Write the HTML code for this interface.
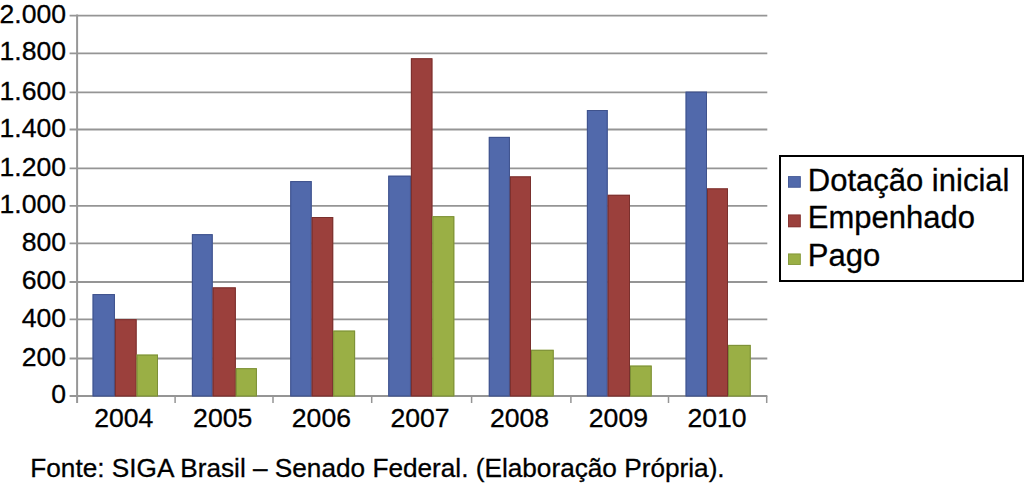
<!DOCTYPE html><html><head><meta charset="utf-8"><style>html,body{margin:0;padding:0;background:#fff}body{width:1024px;height:483px;overflow:hidden}svg{display:block}text{font-family:"Liberation Sans",Arial,sans-serif;fill:#000;stroke:#000;stroke-width:0.3px}</style></head><body>
<svg width="1024" height="483" viewBox="0 0 1024 483">
<rect width="1024" height="483" fill="#fff"/>
<line x1="69.6" y1="358.52" x2="767.3" y2="358.52" stroke="#959595" stroke-width="1.8"/>
<line x1="69.6" y1="319.42" x2="767.3" y2="319.42" stroke="#959595" stroke-width="1.8"/>
<line x1="69.6" y1="282.00" x2="767.3" y2="282.00" stroke="#959595" stroke-width="1.8"/>
<line x1="69.6" y1="243.42" x2="767.3" y2="243.42" stroke="#959595" stroke-width="1.8"/>
<line x1="69.6" y1="205.96" x2="767.3" y2="205.96" stroke="#959595" stroke-width="1.8"/>
<line x1="69.6" y1="168.42" x2="767.3" y2="168.42" stroke="#959595" stroke-width="1.8"/>
<line x1="69.6" y1="129.49" x2="767.3" y2="129.49" stroke="#959595" stroke-width="1.8"/>
<line x1="69.6" y1="92.42" x2="767.3" y2="92.42" stroke="#959595" stroke-width="1.8"/>
<line x1="69.6" y1="53.28" x2="767.3" y2="53.28" stroke="#959595" stroke-width="1.8"/>
<line x1="69.6" y1="15.59" x2="767.3" y2="15.59" stroke="#959595" stroke-width="1.8"/>
<line x1="69.6" y1="395.90" x2="767.3" y2="395.90" stroke="#959595" stroke-width="2"/>
<rect x="92.60" y="294.10" width="22.30" height="102.30" fill="#5169ab"/>
<rect x="93.10" y="294.60" width="21.30" height="101.30" fill="none" stroke="#3f528c" stroke-width="1"/>
<rect x="114.90" y="319.20" width="21.70" height="77.20" fill="#9b403c"/>
<rect x="115.40" y="319.70" width="20.70" height="76.20" fill="none" stroke="#7a302d" stroke-width="1"/>
<rect x="136.60" y="354.60" width="21.40" height="41.80" fill="#9aaf45"/>
<rect x="137.10" y="355.10" width="20.40" height="40.80" fill="none" stroke="#7c8f37" stroke-width="1"/>
<rect x="191.90" y="234.20" width="20.80" height="162.20" fill="#5169ab"/>
<rect x="192.40" y="234.70" width="19.80" height="161.20" fill="none" stroke="#3f528c" stroke-width="1"/>
<rect x="212.70" y="287.40" width="23.10" height="109.00" fill="#9b403c"/>
<rect x="213.20" y="287.90" width="22.10" height="108.00" fill="none" stroke="#7a302d" stroke-width="1"/>
<rect x="235.80" y="368.20" width="21.10" height="28.20" fill="#9aaf45"/>
<rect x="236.30" y="368.70" width="20.10" height="27.20" fill="none" stroke="#7c8f37" stroke-width="1"/>
<rect x="290.25" y="181.10" width="21.45" height="215.30" fill="#5169ab"/>
<rect x="290.75" y="181.60" width="20.45" height="214.30" fill="none" stroke="#3f528c" stroke-width="1"/>
<rect x="311.70" y="217.00" width="21.50" height="179.40" fill="#9b403c"/>
<rect x="312.20" y="217.50" width="20.50" height="178.40" fill="none" stroke="#7a302d" stroke-width="1"/>
<rect x="333.20" y="330.60" width="21.90" height="65.80" fill="#9aaf45"/>
<rect x="333.70" y="331.10" width="20.90" height="64.80" fill="none" stroke="#7c8f37" stroke-width="1"/>
<rect x="388.25" y="175.70" width="22.65" height="220.70" fill="#5169ab"/>
<rect x="388.75" y="176.20" width="21.65" height="219.70" fill="none" stroke="#3f528c" stroke-width="1"/>
<rect x="410.90" y="58.30" width="21.50" height="338.10" fill="#9b403c"/>
<rect x="411.40" y="58.80" width="20.50" height="337.10" fill="none" stroke="#7a302d" stroke-width="1"/>
<rect x="432.40" y="216.20" width="21.90" height="180.20" fill="#9aaf45"/>
<rect x="432.90" y="216.70" width="20.90" height="179.20" fill="none" stroke="#7c8f37" stroke-width="1"/>
<rect x="488.80" y="136.90" width="21.10" height="259.50" fill="#5169ab"/>
<rect x="489.30" y="137.40" width="20.10" height="258.50" fill="none" stroke="#3f528c" stroke-width="1"/>
<rect x="509.90" y="176.40" width="21.10" height="220.00" fill="#9b403c"/>
<rect x="510.40" y="176.90" width="20.10" height="219.00" fill="none" stroke="#7a302d" stroke-width="1"/>
<rect x="531.00" y="349.80" width="22.70" height="46.60" fill="#9aaf45"/>
<rect x="531.50" y="350.30" width="21.70" height="45.60" fill="none" stroke="#7c8f37" stroke-width="1"/>
<rect x="586.90" y="110.00" width="20.80" height="286.40" fill="#5169ab"/>
<rect x="587.40" y="110.50" width="19.80" height="285.40" fill="none" stroke="#3f528c" stroke-width="1"/>
<rect x="607.70" y="194.80" width="22.30" height="201.60" fill="#9b403c"/>
<rect x="608.20" y="195.30" width="21.30" height="200.60" fill="none" stroke="#7a302d" stroke-width="1"/>
<rect x="630.00" y="365.60" width="21.70" height="30.80" fill="#9aaf45"/>
<rect x="630.50" y="366.10" width="20.70" height="29.80" fill="none" stroke="#7c8f37" stroke-width="1"/>
<rect x="685.60" y="91.70" width="21.40" height="304.70" fill="#5169ab"/>
<rect x="686.10" y="92.20" width="20.40" height="303.70" fill="none" stroke="#3f528c" stroke-width="1"/>
<rect x="707.00" y="188.40" width="21.00" height="208.00" fill="#9b403c"/>
<rect x="707.50" y="188.90" width="20.00" height="207.00" fill="none" stroke="#7a302d" stroke-width="1"/>
<rect x="728.00" y="344.90" width="22.70" height="51.50" fill="#9aaf45"/>
<rect x="728.50" y="345.40" width="21.70" height="50.50" fill="none" stroke="#7c8f37" stroke-width="1"/>
<line x1="77.1" y1="14.6" x2="77.1" y2="403" stroke="#979797" stroke-width="2"/>
<line x1="175.10" y1="395.90" x2="175.10" y2="403" stroke="#959595" stroke-width="1.5"/>
<line x1="273.00" y1="395.90" x2="273.00" y2="403" stroke="#959595" stroke-width="1.5"/>
<line x1="371.70" y1="395.90" x2="371.70" y2="403" stroke="#959595" stroke-width="1.5"/>
<line x1="471.60" y1="395.90" x2="471.60" y2="403" stroke="#959595" stroke-width="1.5"/>
<line x1="570.90" y1="395.90" x2="570.90" y2="403" stroke="#959595" stroke-width="1.5"/>
<line x1="668.50" y1="395.90" x2="668.50" y2="403" stroke="#959595" stroke-width="1.5"/>
<line x1="766.70" y1="395.90" x2="766.70" y2="403" stroke="#959595" stroke-width="1.5"/>
<text x="66.1" y="403.10" font-size="26.6" text-anchor="end">0</text>
<text x="66.1" y="365.72" font-size="26.6" text-anchor="end">200</text>
<text x="66.1" y="326.62" font-size="26.6" text-anchor="end">400</text>
<text x="66.1" y="289.20" font-size="26.6" text-anchor="end">600</text>
<text x="66.1" y="250.62" font-size="26.6" text-anchor="end">800</text>
<text x="66.1" y="213.16" font-size="26.6" text-anchor="end">1.000</text>
<text x="66.1" y="175.62" font-size="26.6" text-anchor="end">1.200</text>
<text x="66.1" y="136.69" font-size="26.6" text-anchor="end">1.400</text>
<text x="66.1" y="99.62" font-size="26.6" text-anchor="end">1.600</text>
<text x="66.1" y="60.48" font-size="26.6" text-anchor="end">1.800</text>
<text x="66.1" y="22.79" font-size="26.6" text-anchor="end">2.000</text>
<text x="123.80" y="427" font-size="26.6" text-anchor="middle">2004</text>
<text x="222.70" y="427" font-size="26.6" text-anchor="middle">2005</text>
<text x="321.40" y="427" font-size="26.6" text-anchor="middle">2006</text>
<text x="420.10" y="427" font-size="26.6" text-anchor="middle">2007</text>
<text x="519.50" y="427" font-size="26.6" text-anchor="middle">2008</text>
<text x="618.40" y="427" font-size="26.6" text-anchor="middle">2009</text>
<text x="717.10" y="427" font-size="26.6" text-anchor="middle">2010</text>
<rect x="780" y="156" width="243" height="125" fill="#fff" stroke="#000" stroke-width="2"/>
<rect x="788" y="176.2" width="12.7" height="11.4" fill="#5169ab"/>
<rect x="788.4" y="176.6" width="11.9" height="10.6" fill="none" stroke="#3f528c" stroke-width="0.8" stroke-opacity="0.8"/>
<text x="807.8" y="190.5" font-size="31">Dotação inicial</text>
<rect x="788" y="214.6" width="12.7" height="12.6" fill="#9b403c"/>
<rect x="788.4" y="215.0" width="11.9" height="11.8" fill="none" stroke="#7a302d" stroke-width="0.8" stroke-opacity="0.8"/>
<text x="807.8" y="227.5" font-size="31">Empenhado</text>
<rect x="788" y="253.6" width="12.7" height="11.3" fill="#9aaf45"/>
<rect x="788.4" y="254.0" width="11.9" height="10.5" fill="none" stroke="#7c8f37" stroke-width="0.8" stroke-opacity="0.8"/>
<text x="807.8" y="266.4" font-size="31">Pago</text>
<text x="30.3" y="477" font-size="26.2">Fonte: SIGA Brasil – Senado Federal. (Elaboração Própria).</text>
</svg></body></html>
